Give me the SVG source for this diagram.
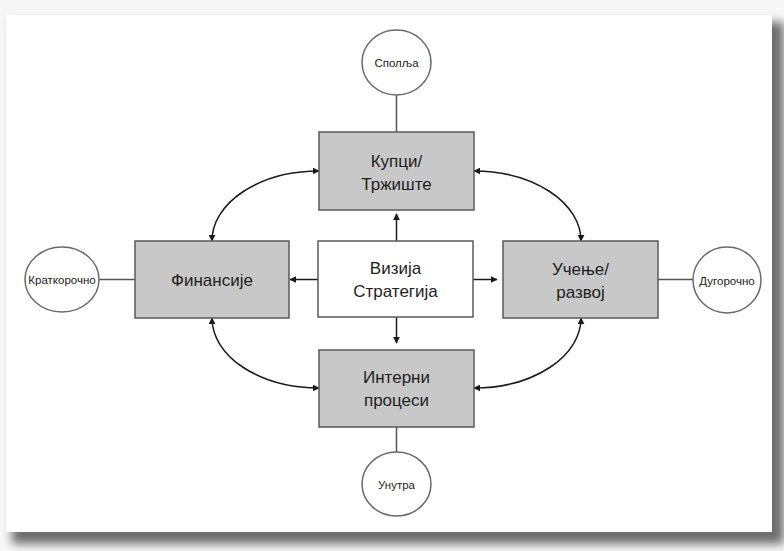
<svg xmlns="http://www.w3.org/2000/svg" width="784" height="551" viewBox="0 0 784 551">
  <defs>
    <filter id="cardShadow" x="-5%" y="-5%" width="115%" height="120%">
      <feGaussianBlur stdDeviation="5"/>
    </filter>
    <marker id="head" viewBox="0 0 10 10" refX="9" refY="5" markerWidth="7" markerHeight="7" markerUnits="userSpaceOnUse" orient="auto-start-reverse">
      <path d="M0,0 L10,5 L0,10 z" fill="#1a1a1a"/>
    </marker>
    <style>
      .box { fill: #c8c8c8; stroke: #5a5a5a; stroke-width: 1.5; }
      .core { fill: #ffffff; stroke: #5a5a5a; stroke-width: 1.5; }
      .ring { fill: #ffffff; stroke: #6a6a6a; stroke-width: 1.5; }
      .label { font-family: "Liberation Sans", Arial, sans-serif; font-size: 17px; fill: #1e1e1e; text-anchor: middle; }
      .small { font-family: "Liberation Sans", Arial, sans-serif; font-size: 11.5px; fill: #222; text-anchor: middle; }
      .tie { stroke: #555; stroke-width: 1.5; fill: none; }
      .flow { stroke: #1a1a1a; stroke-width: 1.5; fill: none; marker-end: url(#head); }
      .loop { stroke: #1a1a1a; stroke-width: 1.5; fill: none; marker-start: url(#head); marker-end: url(#head); }
    </style>
  </defs>

  <!-- page background and card -->
  <rect x="0" y="0" width="784" height="551" fill="#f7f7f7"/>
  <rect x="12" y="22" width="772" height="522" fill="#6e6e6e" filter="url(#cardShadow)"/>
  <rect x="6" y="15" width="766" height="517" fill="#ffffff"/>

  <!-- connectors -->
  <g id="connectors">
    <line class="tie" x1="396.5" y1="95" x2="396.5" y2="132"/>
    <line class="tie" x1="396.5" y1="427" x2="396.5" y2="452"/>
    <line class="tie" x1="99" y1="279.5" x2="135" y2="279.5"/>
    <line class="tie" x1="658" y1="279.5" x2="693" y2="279.5"/>

    <line class="flow" x1="396.5" y1="241" x2="396.5" y2="214"/>
    <line class="flow" x1="396.5" y1="317" x2="396.5" y2="343"/>
    <line class="flow" x1="318" y1="279.5" x2="290" y2="279.5"/>
    <line class="flow" x1="473" y1="279.5" x2="497" y2="279.5"/>

    <path class="loop" d="M212,241 A107,70 0 0 1 319,171"/>
    <path class="loop" d="M474,171 A107,70 0 0 1 581,241"/>
    <path class="loop" d="M212,318 A107,70 0 0 0 319,388"/>
    <path class="loop" d="M474,388 A107,70 0 0 0 581,318"/>
  </g>

  <!-- outer circles -->
  <g id="outside">
    <ellipse class="ring" cx="396.5" cy="62.5" rx="34.5" ry="32.5"/>
    <text class="small" x="396.5" y="67">Сполља</text>
  </g>
  <g id="inside">
    <ellipse class="ring" cx="396.5" cy="484" rx="34.5" ry="32"/>
    <text class="small" x="396.5" y="488.5">Унутра</text>
  </g>
  <g id="short-term">
    <ellipse class="ring" cx="62" cy="279.5" rx="37" ry="32.5"/>
    <text class="small" x="62" y="284">Краткорочно</text>
  </g>
  <g id="long-term">
    <ellipse class="ring" cx="727" cy="280" rx="34" ry="33"/>
    <text class="small" x="727" y="284.5">Дугорочно</text>
  </g>

  <!-- perspective boxes -->
  <g id="customers">
    <rect class="box" x="319" y="132" width="155" height="78"/>
    <text class="label" x="396.5" y="167">Купци/</text>
    <text class="label" x="396.5" y="190">Тржиште</text>
  </g>
  <g id="finance">
    <rect class="box" x="135" y="241" width="154" height="77"/>
    <text class="label" x="212" y="286">Финансије</text>
  </g>
  <g id="vision">
    <rect class="core" x="318" y="241" width="155" height="76"/>
    <text class="label" x="395.5" y="274">Визија</text>
    <text class="label" x="395.5" y="297">Стратегија</text>
  </g>
  <g id="learning">
    <rect class="box" x="503" y="241" width="155" height="77"/>
    <text class="label" x="580.5" y="275">Учење/</text>
    <text class="label" x="580.5" y="298">развој</text>
  </g>
  <g id="processes">
    <rect class="box" x="319" y="350" width="155" height="77"/>
    <text class="label" x="396.5" y="383">Интерни</text>
    <text class="label" x="396.5" y="406">процеси</text>
  </g>
</svg>
